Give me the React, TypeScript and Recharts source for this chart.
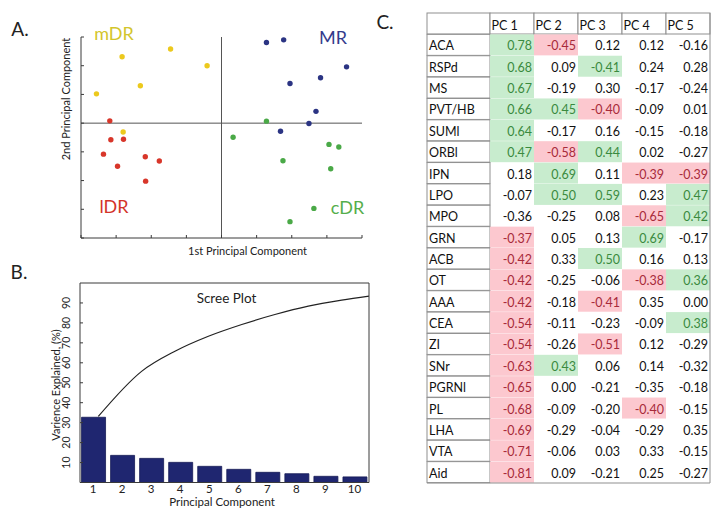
import React from 'react';
import {
  ScatterChart, Scatter, XAxis, YAxis, ReferenceLine,
  ComposedChart, Bar, Line, BarChart,
} from 'recharts';

const FONT = 'Lato, "Open Sans", sans-serif';

// ---------- Panel A: PCA scores ----------
const mDR = [
  { x: -2.83, y: 2.31 }, { x: -1.45, y: 2.58 }, { x: -0.41, y: 2.0 },
  { x: -2.31, y: 1.3 }, { x: -3.56, y: 1.02 }, { x: -2.8, y: -0.31 },
];
const lDR = [
  { x: -3.18, y: 0.08 }, { x: -3.15, y: -0.58 }, { x: -2.79, y: -0.56 },
  { x: -3.36, y: -1.08 }, { x: -2.96, y: -1.5 }, { x: -2.17, y: -1.17 },
  { x: -1.77, y: -1.32 }, { x: -2.16, y: -2.02 },
];
const MR = [
  { x: 1.28, y: 2.81 }, { x: 1.77, y: 2.9 }, { x: 3.56, y: 1.96 },
  { x: 2.82, y: 1.58 }, { x: 1.95, y: 1.38 }, { x: 2.69, y: 0.41 },
  { x: 2.49, y: -0.01 }, { x: 1.68, y: -0.28 },
];
const cDR = [
  { x: 1.28, y: 0.07 }, { x: 0.33, y: -0.49 }, { x: 3.06, y: -0.74 },
  { x: 3.34, y: -0.83 }, { x: 1.75, y: -1.31 }, { x: 3.11, y: -1.59 },
  { x: 2.63, y: -2.97 }, { x: 1.95, y: -3.43 },
];
const scoreXTicks = [-4, -3, -2, -1, 0, 1, 2, 3, 4];
const scoreYTicks = [-4, -3, -2, -1, 0, 1, 2, 3];

// ---------- Panel B: scree plot ----------
const components = [1, 2, 3, 4, 5, 6, 7, 8, 9, 10];
const varianceExplained = [32.7, 13.6, 12.1, 10.1, 8.1, 6.6, 5.1, 4.4, 3.1, 2.8];
const curvePC = [1.18, 2.67, 3.82, 4.97, 6.12, 7.26, 8.41, 9.56, 10.5];
const curveValue = [33.1, 55.7, 65.8, 73.3, 79.2, 84.2, 88.4, 91.4, 93.4];
const screeYTicks = [10, 20, 30, 40, 50, 60, 70, 80, 90];

// ---------- Panel C: loadings table ----------
const regions = ['ACA', 'RSPd', 'MS', 'PVT/HB', 'SUMl', 'ORBl', 'IPN', 'LPO', 'MPO', 'GRN', 'ACB',
  'OT', 'AAA', 'CEA', 'ZI', 'SNr', 'PGRNl', 'PL', 'LHA', 'VTA', 'Aid'];
const pcLabels = ['PC 1', 'PC 2', 'PC 3', 'PC 4', 'PC 5'];
const pc1 = [0.78, 0.68, 0.67, 0.66, 0.64, 0.47, 0.18, -0.07, -0.36, -0.37, -0.42, -0.42, -0.42, -0.54, -0.54, -0.63, -0.65, -0.68, -0.69, -0.71, -0.81];
const pc2 = [-0.45, 0.09, -0.19, 0.45, -0.17, -0.58, 0.69, 0.5, -0.25, 0.05, 0.33, -0.25, -0.18, -0.11, -0.26, 0.43, 0.0, -0.09, -0.29, -0.06, 0.09];
const pc3 = [0.12, -0.41, 0.3, -0.4, 0.16, 0.44, 0.11, 0.59, 0.08, 0.13, 0.5, -0.06, -0.41, -0.23, -0.51, 0.06, -0.21, -0.2, -0.04, 0.03, -0.21];
const pc4 = [0.12, 0.24, -0.17, -0.09, -0.15, 0.02, -0.39, 0.23, -0.65, 0.69, 0.16, -0.38, 0.35, -0.09, 0.12, 0.14, -0.35, -0.4, -0.29, 0.33, 0.25];
const pc5 = [-0.16, 0.28, -0.24, 0.01, -0.18, -0.27, -0.39, 0.47, 0.42, -0.17, 0.13, 0.36, 0.0, 0.38, -0.29, -0.32, -0.18, -0.15, 0.35, -0.15, -0.27];
// G = highlighted green, R = highlighted red, . = plain
const hl1 = 'GGGGGG...RRRRRRRRRRRR';
const hl2 = 'R..G.RGG.......G.....';
const hl3 = '.G.R.G.G..G.R.R......';
const hl4 = '......R.RG.R.....R...';
const hl5 = '......RGG..G.G.......';

const pcValues = [pc1, pc2, pc3, pc4, pc5];
const pcHighlights = [hl1, hl2, hl3, hl4, hl5];

const LABEL_COL = 63;
const PC_COL = 44;

const screeData = components.map((pc, i) => ({ pc, v: varianceExplained[i] }));
const curveData = curvePC.map((pc, i) => ({ cpc: pc, cv: curveValue[i] }));

const tableRows = [
  { name: '', header: true, vals: [] as number[], hl: [] as string[] },
  ...regions.map((name, r) => ({
    name,
    header: false,
    vals: pcValues.map((col) => col[r]),
    hl: pcHighlights.map((h) => h[r]),
  })),
].map((row) => ({ ...row, w0: LABEL_COL, w1: PC_COL, w2: PC_COL, w3: PC_COL, w4: PC_COL, w5: PC_COL }));

const GRID = '#8f8f8f';
const FILL_G = '#c8ecce';
const FILL_R = '#fcc8cf';
const TXT_G = '#3a8a3e';
const TXT_R = '#a82a3a';
const AXIS = '#3a3a3a';

const EmptyTick = () => <g />;

// inward tick marks drawn by the axes' own tick renderers
const LeftInTick = (p: any) => <line x1={p.x} x2={p.x + 3} y1={p.y} y2={p.y} stroke={AXIS} />;
const RightInTick = (p: any) => <line x1={p.x} x2={p.x - 3} y1={p.y} y2={p.y} stroke={AXIS} />;
const BottomInTick = (p: any) => <line x1={p.x} x2={p.x} y1={p.y} y2={p.y - 3} stroke={AXIS} />;

const Txt = ({ x, y, size, color = '#222', rotate = false, children }: any) => (
  <div
    style={{
      position: 'absolute', left: x, top: y,
      transform: `translate(-50%, -50%)${rotate ? ' rotate(-90deg)' : ''}`,
      whiteSpace: 'nowrap', fontSize: size, color, fontFamily: FONT, lineHeight: 1,
    }}
  >
    {children}
  </div>
);

const dot = (color: string) => (p: any) => <circle cx={p.cx} cy={p.cy} r={2.7} fill={color} />;

const ScreeYTick = (p: any) => (
  <g>
    <line x1={p.x} x2={p.x + 3} y1={p.y} y2={p.y} stroke={AXIS} />
    <text
      x={p.x - 14} y={p.y} transform={`rotate(-90, ${p.x - 14}, ${p.y})`}
      textAnchor="middle" dominantBaseline="central" fontSize={10.5} fontFamily={FONT} fill="#222"
    >
      {p.payload.value}
    </text>
  </g>
);

const ScreeXTick = (p: any) => (
  <text x={p.x} y={p.y + 10} textAnchor="middle" fontSize={11.5} fontFamily={FONT} fill="#222">
    {p.payload.value}
  </text>
);

const LabelCell = (p: any) => (
  <g>
    <rect x={p.x} y={p.y} width={p.width} height={p.height} fill="#fff" stroke={GRID} strokeWidth={1} />
    <text x={p.x + 2} y={p.y + p.height - 5} fontSize={12.5} fontFamily={FONT} fill="#111">
      {p.payload.name}
    </text>
  </g>
);

const makeValueCell = (k: number) => (p: any) => {
  const row = p.payload;
  if (row.header) {
    return (
      <g>
        <rect x={p.x} y={p.y} width={p.width} height={p.height} fill="#fff" stroke={GRID} strokeWidth={1} />
        <text x={p.x + 1.5} y={p.y + p.height - 4} fontSize={12.5} fontFamily={FONT} fill="#111">
          {pcLabels[k]}
        </text>
      </g>
    );
  }
  const h = row.hl[k];
  const fill = h === 'G' ? FILL_G : h === 'R' ? FILL_R : 'none';
  const color = h === 'G' ? TXT_G : h === 'R' ? TXT_R : '#111';
  return (
    <g>
      <rect x={p.x} y={p.y} width={p.width} height={p.height} fill={fill} stroke="none" />
      <text x={p.x + p.width - 2} y={p.y + p.height - 5} textAnchor="end" fontSize={12.5} fontFamily={FONT} fill={color}>
        {row.vals[k].toFixed(2)}
      </text>
    </g>
  );
};

export default function App() {
  return (
    <div style={{ position: 'absolute', left: 0, top: 0, width: 722, height: 517, background: '#fff', overflow: 'hidden' }}>
      {/* Panel A */}
      <div style={{ position: 'absolute', left: 0, top: 0 }}>
        <ScatterChart width={370} height={260} margin={{ top: 37, left: 80, right: 8, bottom: 21 }}>
          <XAxis
            type="number" dataKey="x" domain={[-4, 4]} ticks={scoreXTicks} interval={0} height={1}
            tick={BottomInTick} tickLine={false} tickSize={0} tickMargin={0} axisLine={{ stroke: AXIS }}
          />
          <YAxis
            type="number" dataKey="y" domain={[-4, 3]} ticks={scoreYTicks} interval={0} width={1}
            tick={LeftInTick} tickLine={false} tickSize={0} tickMargin={0} axisLine={{ stroke: AXIS }}
          />
          <ReferenceLine x={0} stroke="#555" strokeWidth={1} />
          <ReferenceLine y={0} stroke="#555" strokeWidth={1} />
          <Scatter data={mDR} shape={dot('#ecc91d')} isAnimationActive={false} />
          <Scatter data={lDR} shape={dot('#d8362a')} isAnimationActive={false} />
          <Scatter data={MR} shape={dot('#2b3483')} isAnimationActive={false} />
          <Scatter data={cDR} shape={dot('#4aa947')} isAnimationActive={false} />
        </ScatterChart>
      </div>
      <Txt x={20} y={28} size={19}>A.</Txt>
      <Txt x={114} y={33} size={18} color="#d3c52c">mDR</Txt>
      <Txt x={333} y={36.5} size={18} color="#343b8c">MR</Txt>
      <Txt x={114} y={206} size={18} color="#d3342a">lDR</Txt>
      <Txt x={347.5} y={206.5} size={18} color="#55ae4c">cDR</Txt>
      <Txt x={65} y={98.5} size={11} rotate>2nd Principal Component</Txt>
      <Txt x={247.5} y={250} size={11}>1st Principal Component</Txt>

      {/* Panel B */}
      <div style={{ position: 'absolute', left: 0, top: 270 }}>
        <ComposedChart width={380} height={247} data={screeData} margin={{ top: 12, left: 79, right: 10, bottom: 33.5 }}>
          <XAxis
            type="number" dataKey="pc" domain={[0.55, 10.5]} ticks={components} interval={0} height={1}
            tick={ScreeXTick} tickLine={false} tickSize={0} tickMargin={0} axisLine={{ stroke: AXIS }}
          />
          <XAxis
            xAxisId="top" orientation="top" type="number" dataKey="pc" domain={[0.55, 10.5]} height={1}
            tick={EmptyTick} tickLine={false} axisLine={{ stroke: AXIS }}
          />
          <XAxis xAxisId="curve" type="number" dataKey="cpc" domain={[0.55, 10.5]} hide />
          <YAxis
            type="number" domain={[0, 100]} ticks={screeYTicks} interval={0} width={1}
            tick={ScreeYTick} tickLine={false} tickSize={0} tickMargin={0} axisLine={{ stroke: AXIS }}
          />
          <YAxis
            yAxisId="right" orientation="right" type="number" domain={[0, 100]} ticks={screeYTicks} interval={0} width={1}
            tick={RightInTick} tickLine={false} tickSize={0} tickMargin={0} axisLine={{ stroke: AXIS }}
          />
          <Bar dataKey="v" barSize={24} fill="#1f2670" stroke="#151a55" strokeWidth={0.8} isAnimationActive={false} />
          <Line
            xAxisId="curve" data={curveData} dataKey="cv" type="monotone" stroke="#222" strokeWidth={1.2}
            dot={false} isAnimationActive={false}
          />
        </ComposedChart>
      </div>
      <Txt x={19} y={271} size={19}>B.</Txt>
      <Txt x={226.5} y={299} size={13.5}>Scree Plot</Txt>
      <Txt x={222} y={501.5} size={11.5}>Principal Component</Txt>
      <Txt x={55} y={385} size={11} rotate>Varience Explained, (%)</Txt>

      {/* Panel C */}
      <Txt x={385} y={21} size={19}>C.</Txt>
      <div style={{ position: 'absolute', left: 426, top: 12 }}>
        <BarChart
          width={285} height={472} data={tableRows} layout="vertical" barCategoryGap={0}
          margin={{ top: 1, left: 1, right: 0, bottom: 0 }}
        >
          <XAxis type="number" domain={[0, LABEL_COL + 5 * PC_COL]} height={1} tick={EmptyTick} tickLine={false} axisLine={{ stroke: GRID }} />
          <YAxis type="category" dataKey="name" orientation="right" width={1} tick={EmptyTick} tickLine={false} axisLine={{ stroke: GRID }} />
          <Bar dataKey="w0" stackId="t" shape={LabelCell} isAnimationActive={false} />
          <Bar dataKey="w1" stackId="t" shape={makeValueCell(0)} isAnimationActive={false} />
          <Bar dataKey="w2" stackId="t" shape={makeValueCell(1)} isAnimationActive={false} />
          <Bar dataKey="w3" stackId="t" shape={makeValueCell(2)} isAnimationActive={false} />
          <Bar dataKey="w4" stackId="t" shape={makeValueCell(3)} isAnimationActive={false} />
          <Bar dataKey="w5" stackId="t" shape={makeValueCell(4)} isAnimationActive={false} />
        </BarChart>
      </div>
    </div>
  );
}
